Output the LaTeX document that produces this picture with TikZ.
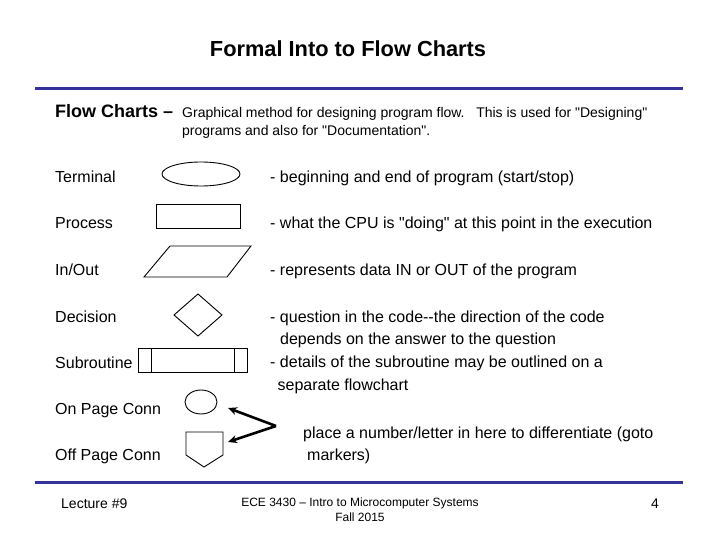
\documentclass[tikz,border=0pt]{standalone}
\usepackage{fontspec}
\setmainfont{Liberation Sans}[Ligatures=TeXOff]
\usetikzlibrary{shapes.geometric,arrows.meta}
\definecolor{rulecol}{RGB}{51,51,153}
\begin{document}
\begin{tikzpicture}[x=1pt,y=-1pt,
  lbl/.style={anchor=base west,inner sep=0pt,font=\fontsize{16}{19}\selectfont},
  desc/.style={anchor=base west,inner sep=0pt,font=\fontsize{16}{19}\selectfont},
  shp/.style={draw,line width=0.9pt},
  conn/.style={line width=2.6pt,-{Stealth[length=9pt,width=8pt]}}]
\useasboundingbox (0,0) rectangle (720,540);
\fill[white] (0,0) rectangle (720,540);
% title
\node[anchor=base,inner sep=0pt,font=\fontsize{21.8}{25}\selectfont\bfseries] (title) at (348,56.5) {Formal Into to Flow Charts};
\draw[rulecol,line width=3pt] (35,89) -- (683,89);
\draw[rulecol,line width=3pt] (35,482) -- (683,482);
% intro
\node[anchor=base west,inner sep=0pt,font=\fontsize{18}{21}\selectfont\bfseries] (fc) at (55,117.3) {Flow Charts –};
\node[anchor=base west,inner sep=0pt,font=\fontsize{14}{17}\selectfont] (fc1) at (182,117.3) {Graphical method for designing program flow.\ \ \ This is used for "Designing"};
\node[anchor=base west,inner sep=0pt,font=\fontsize{14}{17}\selectfont] (fc2) at (182,136) {programs and also for "Documentation".};
% labels
\node[lbl] (lt) at (55,183) {Terminal};
\node[lbl] (lp) at (55,229) {Process};
\node[lbl] (li) at (55,275) {In/Out};
\node[lbl] (ld) at (55,322) {Decision};
\node[lbl] (ls) at (55,368) {Subroutine};
\node[lbl] (lo) at (55,414) {On Page Conn};
\node[lbl] (lf) at (55,460) {Off Page Conn};
% descriptions
\node[desc] (dt) at (270,183) {- beginning and end of program (start/stop)};
\node[desc] (dp) at (270,229) {- what the CPU is "doing" at this point in the execution};
\node[desc] (di) at (270,275) {- represents data IN or OUT of the program};
\node[desc] (dd1) at (270,322) {- question in the code--the direction of the code};
\node[desc] (dd2) at (280,344.5) {depends on the answer to the question};
\node[desc] (ds1) at (270,367.5) {- details of the subroutine may be outlined on a};
\node[desc] (ds2) at (277.5,390) {separate flowchart};
\node[desc] (dc1) at (303,438) {place a number/letter in here to differentiate (goto};
\node[desc] (dc2) at (307,460) {markers)};
% shapes
\node[shp,ellipse,minimum width=78pt,minimum height=24pt,inner sep=0pt] (term) at (201,174) {};
\node[shp,minimum width=84pt,minimum height=24pt,inner sep=0pt] (proc) at (198,216) {};
\draw[shp] (170,246) -- (251,246) -- (227,277) -- (144,277) -- cycle;
\draw[shp] (198,294) -- (222,315) -- (198,336) -- (174,315) -- cycle;
\draw[shp] (138,348) rectangle (247,372);
\draw[shp] (151,348) -- (151,372);
\draw[shp] (234,348) -- (234,372);
\node[shp,ellipse,minimum width=32pt,minimum height=24pt,inner sep=0pt] (onp) at (201,402) {};
\draw[shp] (186,432) -- (223,432) -- (223,455) -- (204,467) -- (186,455) -- cycle;
\coordinate (off) at (228,442);
\coordinate (onpt) at (228,408);
\coordinate (vtx) at (276,426);
\draw[conn] (vtx) -- (onpt);
\draw[conn] (vtx) -- (off);
% footer
\node[anchor=base west,inner sep=0pt,font=\fontsize{14}{17}\selectfont] (lec) at (61,508) {Lecture \#9};
\node[anchor=base,inner sep=0pt,font=\fontsize{12}{14}\selectfont] (ece) at (360,506.5) {ECE 3430 – Intro to Microcomputer Systems};
\node[anchor=base,inner sep=0pt,font=\fontsize{12}{14}\selectfont] (fall) at (360,521.5) {Fall 2015};
\node[anchor=base,inner sep=0pt,font=\fontsize{14}{17}\selectfont] (pg) at (655,508) {4};
\end{tikzpicture}
\end{document}
